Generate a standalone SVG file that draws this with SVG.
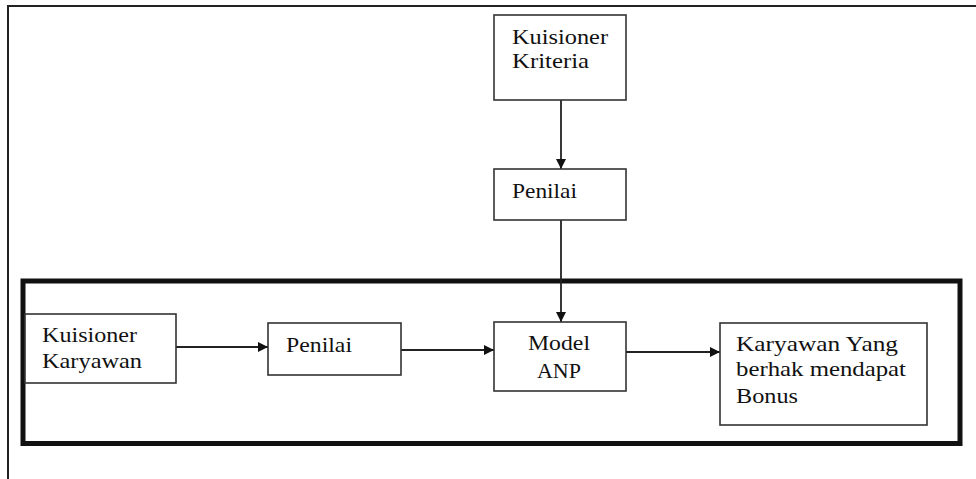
<svg xmlns="http://www.w3.org/2000/svg" width="976" height="479" viewBox="0 0 976 479">
  <style>
    .box { fill: #fff; stroke: #333; stroke-width: 1.6; }
    .lbl { font-family: "Liberation Serif", "Times New Roman", serif; font-size: 22px; fill: #111; }
    .edge { stroke: #222; stroke-width: 1.8; fill: none; marker-end: url(#arrow); }
  </style>
  <defs>
    <marker id="arrow" viewBox="0 0 10 10" refX="10" refY="5" markerWidth="10" markerHeight="10" markerUnits="userSpaceOnUse" orient="auto">
      <path d="M0,0 L10,5 L0,10 Z" fill="#111"/>
    </marker>
  </defs>
  <rect width="976" height="479" fill="#fff"/>
  <!-- page frame -->
  <path d="M8,479 V6 H976" fill="none" stroke="#222" stroke-width="2"/>
  <!-- system boundary -->
  <rect id="boundary" x="23" y="281" width="937" height="162.5" fill="none" stroke="#111" stroke-width="5"/>

  <g id="connectors">
    <line class="edge" x1="561" y1="100" x2="561" y2="169"/>
    <line class="edge" x1="561" y1="220" x2="561" y2="322"/>
    <line class="edge" x1="176" y1="347" x2="268" y2="347"/>
    <line class="edge" x1="401" y1="350" x2="494" y2="350"/>
    <line class="edge" x1="626" y1="352" x2="720" y2="352"/>
  </g>

  <g id="kuisioner-kriteria">
    <rect class="box" x="494" y="15" width="132" height="85"/>
    <text class="lbl" x="512" y="44" textLength="96" lengthAdjust="spacingAndGlyphs">Kuisioner</text>
    <text class="lbl" x="512" y="68" textLength="77" lengthAdjust="spacingAndGlyphs">Kriteria</text>
  </g>

  <g id="penilai-kriteria">
    <rect class="box" x="494" y="169" width="132" height="51"/>
    <text class="lbl" x="512" y="198" textLength="65" lengthAdjust="spacingAndGlyphs">Penilai</text>
  </g>

  <g id="kuisioner-karyawan">
    <rect class="box" x="25" y="314" width="151" height="69"/>
    <text class="lbl" x="42" y="342" textLength="95" lengthAdjust="spacingAndGlyphs">Kuisioner</text>
    <text class="lbl" x="42" y="368" textLength="100" lengthAdjust="spacingAndGlyphs">Karyawan</text>
  </g>

  <g id="penilai-karyawan">
    <rect class="box" x="268" y="323" width="133" height="52"/>
    <text class="lbl" x="286" y="352" textLength="66" lengthAdjust="spacingAndGlyphs">Penilai</text>
  </g>

  <g id="model-anp">
    <rect class="box" x="494" y="322" width="132" height="69"/>
    <text class="lbl" x="559" y="350" text-anchor="middle" textLength="62" lengthAdjust="spacingAndGlyphs">Model</text>
    <text class="lbl" x="559" y="378" text-anchor="middle">ANP</text>
  </g>

  <g id="karyawan-bonus">
    <rect class="box" x="720" y="323" width="207" height="102"/>
    <text class="lbl" x="736" y="351" textLength="162" lengthAdjust="spacingAndGlyphs">Karyawan Yang</text>
    <text class="lbl" x="736" y="376" textLength="170" lengthAdjust="spacingAndGlyphs">berhak mendapat</text>
    <text class="lbl" x="736" y="403" textLength="62" lengthAdjust="spacingAndGlyphs">Bonus</text>
  </g>
</svg>
